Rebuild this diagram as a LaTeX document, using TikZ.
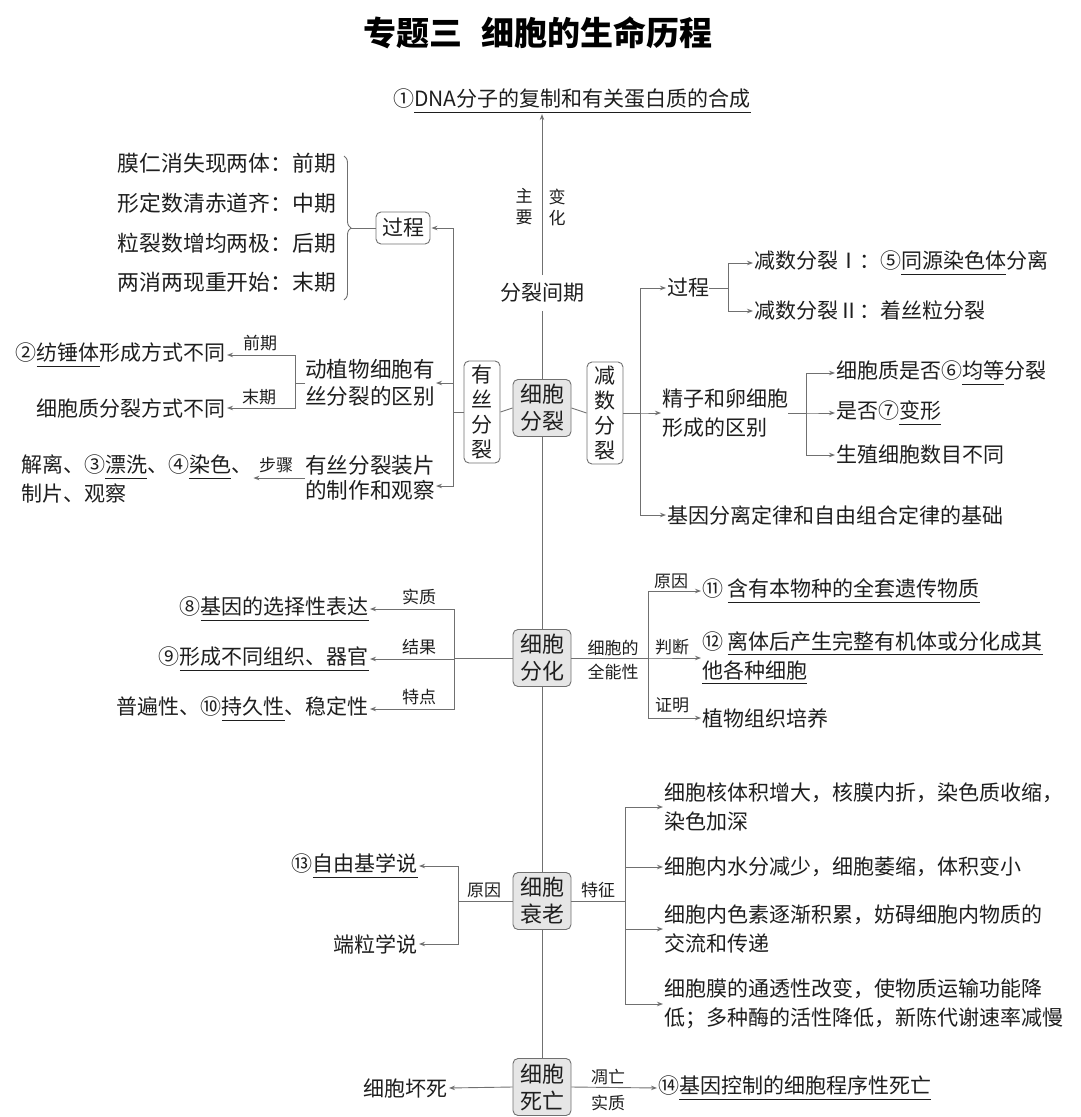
\documentclass[tikz,border=0pt]{standalone}
\usepackage{fontspec}
\setmainfont{Noto Sans CJK SC}
\usetikzlibrary{arrows.meta,decorations.pathreplacing,calc}
\definecolor{ink}{HTML}{1E1E1E}
\definecolor{ln}{HTML}{707070}
\definecolor{bf}{HTML}{E6E6E6}
\newsavebox{\myulbox}
\newcommand{\myul}[1]{\leavevmode\sbox{\myulbox}{#1}\rlap{\raisebox{-6pt}{\color{ink}\rule{\wd\myulbox}{1pt}}}\usebox{\myulbox}}
\tikzset{
 txt/.style={inner sep=0pt, text=ink, font=\fontsize{21}{29}\selectfont, align=left},
 lab/.style={inner sep=0pt, text=ink, font=\fontsize{17}{22}\selectfont, align=center},
 cbox/.style={draw=ln, line width=0.9pt, fill=bf, rounded corners=5pt, minimum width=58pt, minimum height=57pt, inner sep=0pt, text=ink, font=\fontsize{22}{27}\selectfont, align=center},
 vbox/.style={draw=ln, line width=0.9pt, fill=white, rounded corners=5pt, minimum width=36pt, minimum height=102pt, inner sep=0pt, text=ink, font=\fontsize{21}{25}\selectfont, align=center},
 pbox/.style={draw=ln, line width=0.9pt, fill=white, rounded corners=5pt, minimum width=54pt, minimum height=32pt, inner sep=0pt, text=ink, font=\fontsize{21}{25}\selectfont},
 con/.style={draw=ln, line width=0.9pt},
 arr/.style={con, -{Stealth[length=6pt,width=4.5pt]}, shorten >=1pt},
 brc/.style={draw=ln, line width=0.9pt, decorate, decoration={brace, amplitude=7pt}},
 lst/.style={txt, anchor=east, font=\fontsize{21.8}{29}\selectfont},
}
\begin{document}
\begin{tikzpicture}[x=1pt,y=-1pt]
\useasboundingbox (0,0) rectangle (1080,1117);
% title
\node[inner sep=0pt, text=black, font=\fontsize{33}{36}\selectfont\bfseries] (title) at (538,33) {专题三\hspace{0.6em}细胞的生命历程};
% interphase
\node[txt, anchor=west] (dna) at (393,101) {①\myul{DNA分子的复制和有关蛋白质的合成}};
\node[txt, inner ysep=8pt] (jq) at (542,293) {分裂间期};
\node[lab, font=\fontsize{17}{21}\selectfont] (zy) at (524,207) {主\\要};
\node[lab, font=\fontsize{17}{21}\selectfont] (bh) at (557,207) {变\\化};
% main boxes
\node[cbox] (xf) at (542,408) {细胞\\分裂};
\node[vbox] (ys) at (482,412) {有\\丝\\分\\裂};
\node[vbox] (js) at (605,413) {减\\数\\分\\裂};
\node[cbox] (fh) at (542,658) {细胞\\分化};
\node[cbox] (sl) at (542,901) {细胞\\衰老};
\node[cbox] (sw) at (542,1087) {细胞\\死亡};
% main spine
\draw[arr] (jq.north) -- (jq.north |- dna.south);
\draw[con] (jq.south) -- (xf.north);
\draw[con] (xf.south) -- (fh.north);
\draw[con] (fh.south) -- (sl.north);
\draw[con] (sl.south) -- (sw.north);
\draw[con] (xf.west) -- (ys.east);
\draw[con] (xf.east) -- (js.west);
% mitosis: process
\node[pbox] (gc) at (403,228) {过程};
\node[lst] (p1) at (336,163) {膜仁消失现两体：前期};
\node[lst] (p2) at (336,203) {形定数清赤道齐：中期};
\node[lst] (p3) at (336,243) {粒裂数增均两极：后期};
\node[lst] (p4) at (336,282) {两消两现重开始：末期};
\draw[brc] (344,156) -- (344,300);
\coordinate (bt) at (351,228);
\draw[con] (bt) -- (gc.west);
% mitosis: differences
\node[txt, anchor=east, font=\fontsize{21.6}{27}\selectfont] (dz) at (435,383) {动植物细胞有\\丝分裂的区别};
\node[txt, anchor=east, font=\fontsize{21.6}{25}\selectfont] (zp) at (435,478) {有丝分裂装片\\的制作和观察};
\draw[arr] (ys.west) -- ++(-10,0) |- (gc.east);
\draw[arr] (ys.west) -- ++(-10,0) |- (dz.east);
\draw[arr] (ys.west) -- ++(-10,0) |- ($(zp.east)+(0,8)$);
\node[txt, anchor=east] (f1) at (226,355) {②\myul{纺锤体}形成方式不同};
\node[txt, anchor=east] (f2) at (226,408) {细胞质分裂方式不同};
\draw[arr] (dz.west) -- ++(-10,0) |- (f1.east);
\draw[arr] (dz.west) -- ++(-10,0) |- (f2.east);
\node[lab] (qq) at (260,343) {前期};
\node[lab] (mq) at (259,397) {末期};
\node[txt, anchor=north west] (jl) at (21,455) {解离、③\myul{漂洗}、④\myul{染色}、\\制片、观察};
\node[lab] (bz) at (276,465) {步骤};
\draw[arr] (zp.west) -- (zp.west -| jl.east);
% meiosis
\node[txt, anchor=west] (gc2) at (667,288) {过程};
\node[txt, anchor=west] (jz) at (662,413) {精子和卵细胞\\形成的区别};
\node[txt, anchor=west] (jy) at (667,515) {基因分离定律和自由组合定律的基础};
\draw[arr] (js.east) -- ++(17,0) |- (gc2.west);
\draw[arr] (js.east) -- ++(17,0) |- (jz.west);
\draw[arr] (js.east) -- ++(17,0) |- (jy.west);
\node[txt, anchor=west] (m1) at (754,263) {减数分裂Ⅰ：⑤\myul{同源染色体}分离};
\node[txt, anchor=west] (m2) at (754,311) {减数分裂Ⅱ：着丝粒分裂};
\draw[arr] (gc2.east) -- ++(19,0) |- (m1.west);
\draw[arr] (gc2.east) -- ++(19,0) |- (m2.west);
\node[txt, anchor=west] (r1) at (836,373) {细胞质是否⑥\myul{均等}分裂};
\node[txt, anchor=west] (r2) at (836,413) {是否⑦\myul{变形}};
\node[txt, anchor=west] (r3) at (836,455) {生殖细胞数目不同};
\draw[arr] (jz.east) -- ++(18,0) |- (r1.west);
\draw[arr] (jz.east) -- ++(18,0) |- (r2.west);
\draw[arr] (jz.east) -- ++(18,0) |- (r3.west);
% differentiation
\node[txt, anchor=east] (d1) at (369,609) {⑧\myul{基因的选择性表达}};
\node[txt, anchor=east] (d2) at (369,659) {⑨\myul{形成不同组织、器官}};
\node[txt, anchor=east] (d3) at (369,709) {普遍性、⑩\myul{持久性}、稳定性};
\draw[arr] (fh.west) -- ++(-58,0) |- (d1.east);
\draw[arr] (fh.west) -- ++(-58,0) |- (d2.east);
\draw[arr] (fh.west) -- ++(-58,0) |- (d3.east);
\node[lab] (sz) at (419,597) {实质};
\node[lab] (jg) at (419,647) {结果};
\node[lab] (td) at (419,697) {特点};
\node[lab, font=\fontsize{17}{24}\selectfont] (qn) at (613,660) {细胞的\\全能性};
\node[txt, anchor=west] (q1) at (702,591) {⑪ \myul{含有本物种的全套遗传物质}};
\node[txt, anchor=west] (q2) at (702,658) {⑫ \myul{离体后产生完整有机体或分化成其}\\\myul{他各种细胞}};
\node[txt, anchor=west] (q3) at (702,718) {植物组织培养};
\draw[arr] (fh.east) -- ++(77,0) |- (q1.west);
\draw[arr] (fh.east) -- ++(77,0) |- (q2.west);
\draw[arr] (fh.east) -- ++(77,0) |- (q3.west);
\node[lab] (yy1) at (671,581) {原因};
\node[lab] (pd) at (672,647) {判断};
\node[lab] (zm) at (672,705) {证明};
% aging
\node[txt, anchor=east] (a1) at (418,866) {⑬\myul{自由基学说}};
\node[txt, anchor=east] (a2) at (418,944) {端粒学说};
\draw[arr] (sl.west) -- ++(-54,0) |- (a1.east);
\draw[arr] (sl.west) -- ++(-54,0) |- (a2.east);
\node[lab] (yy2) at (484,890) {原因};
\node[txt, anchor=west] (t1) at (664,807) {细胞核体积增大，核膜内折，染色质收缩，\\染色加深};
\node[txt, anchor=west] (t2) at (664,867) {细胞内水分减少，细胞萎缩，体积变小};
\node[txt, anchor=west] (t3) at (664,929) {细胞内色素逐渐积累，妨碍细胞内物质的\\交流和传递};
\node[txt, anchor=west] (t4) at (664,1004) {细胞膜的通透性改变，使物质运输功能降\\低；多种酶的活性降低，新陈代谢速率减慢};
\draw[arr] (sl.east) -- ++(54,0) |- (t1.west);
\draw[arr] (sl.east) -- ++(54,0) |- (t2.west);
\draw[arr] (sl.east) -- ++(54,0) |- (t3.west);
\draw[arr] (sl.east) -- ++(54,0) |- (t4.west);
\node[lab] (tz) at (598,890) {特征};
% death
\node[txt, anchor=east] (hs) at (448,1088) {细胞坏死};
\node[txt, anchor=west] (sd) at (658,1088) {⑭\myul{基因控制的细胞程序性死亡}};
\draw[arr] (sw.west) -- (hs.east);
\draw[arr] (sw.east) -- (sd.west);
\node[lab] (dw) at (608,1077) {凋亡};
\node[lab] (sz2) at (608,1103) {实质};
\end{tikzpicture}
\end{document}
